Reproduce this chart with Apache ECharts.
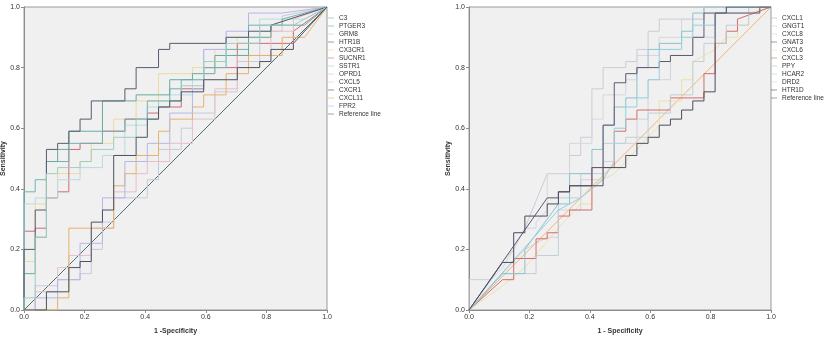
<!DOCTYPE html>
<html>
<head>
<meta charset="utf-8">
<script src="https://cdn.jsdelivr.net/npm/echarts@6/dist/echarts.min.js"></script>
<style>
  html, body { margin: 0; padding: 0; background: #fff; }
  #chart { width: 825px; height: 337px; }
</style>
</head>
<body>
<div id="chart"></div>
<script>
// ROC curves, [1 - specificity, sensitivity] corner points
const axisTicks = [0, 0.2, 0.4, 0.6, 0.8, 1.0];

// left panel
const leftNames = ['C3', 'PTGER3', 'GRM8', 'HTR1B', 'CX3CR1', 'SUCNR1', 'SSTR1', 'OPRD1', 'CXCL5', 'CXCR1', 'CXCL11', 'FPR2', 'Reference line'];
const leftColors = ['#73b2b6', '#6aab9c', '#c9c9dc', '#5a5a70', '#ebdc9c', '#cc6a7c', '#9ccfbf', '#ebbdcd', '#b6dbe4', '#4e5262', '#e6b268', '#b6b6e6', '#4d6e6a'];

const c3 = [[0,0],[0,0.39],[0.037,0.39],[0.037,0.43],[0.074,0.43],[0.074,0.49],[0.148,0.49],[0.148,0.55],[0.259,0.55],[0.259,0.59],[0.333,0.59],[0.333,0.63],[0.407,0.63],[0.407,0.69],[0.481,0.69],[0.481,0.73],[0.519,0.73],[0.519,0.76],[0.593,0.76],[0.593,0.8],[0.667,0.8],[0.667,0.86],[0.741,0.86],[0.741,0.94],[0.852,0.94],[0.852,0.96],[1,1]];
const ptger3 = [[0,0],[0,0.12],[0.037,0.12],[0.037,0.24],[0.074,0.24],[0.074,0.49],[0.111,0.49],[0.111,0.53],[0.148,0.53],[0.148,0.59],[0.259,0.59],[0.259,0.69],[0.37,0.69],[0.37,0.71],[0.481,0.71],[0.481,0.76],[0.556,0.76],[0.556,0.78],[0.63,0.78],[0.63,0.84],[0.741,0.84],[0.741,0.9],[0.815,0.9],[0.815,0.94],[0.926,0.94],[1,1]];
const grm8 = [[0,0],[0.037,0],[0.037,0.08],[0.111,0.08],[0.111,0.1],[0.185,0.1],[0.185,0.12],[0.222,0.12],[0.222,0.2],[0.259,0.2],[0.259,0.29],[0.296,0.29],[0.296,0.37],[0.407,0.37],[0.407,0.43],[0.444,0.43],[0.444,0.53],[0.519,0.53],[0.519,0.6],[0.556,0.6],[0.556,0.65],[0.63,0.65],[0.63,0.72],[0.704,0.72],[0.704,0.82],[0.778,0.82],[0.778,0.92],[0.852,0.92],[0.852,0.97],[1,1]];
const htr1b = [[0,0],[0,0.2],[0.037,0.2],[0.037,0.33],[0.074,0.33],[0.074,0.53],[0.111,0.53],[0.111,0.55],[0.148,0.55],[0.148,0.59],[0.185,0.59],[0.185,0.63],[0.222,0.63],[0.222,0.69],[0.333,0.69],[0.333,0.73],[0.37,0.73],[0.37,0.8],[0.444,0.8],[0.444,0.86],[0.481,0.86],[0.481,0.88],[0.667,0.88],[0.667,0.9],[0.741,0.9],[0.741,0.92],[0.815,0.92],[0.815,0.94],[1,1]];
const cx3cr1 = [[0,0],[0,0.16],[0.037,0.16],[0.037,0.35],[0.074,0.35],[0.074,0.37],[0.111,0.37],[0.111,0.45],[0.185,0.45],[0.185,0.49],[0.222,0.49],[0.222,0.55],[0.296,0.55],[0.296,0.63],[0.37,0.63],[0.37,0.69],[0.444,0.69],[0.444,0.78],[0.556,0.78],[0.556,0.8],[0.63,0.8],[0.63,0.86],[0.704,0.86],[0.704,0.9],[0.815,0.9],[0.815,0.94],[1,1]];
const sucnr1 = [[0,0],[0,0.26],[0.037,0.26],[0.037,0.27],[0.074,0.27],[0.074,0.37],[0.111,0.37],[0.111,0.39],[0.148,0.39],[0.148,0.53],[0.185,0.53],[0.185,0.55],[0.259,0.55],[0.259,0.59],[0.333,0.59],[0.333,0.63],[0.407,0.63],[0.407,0.65],[0.444,0.65],[0.444,0.67],[0.519,0.67],[0.519,0.73],[0.593,0.73],[0.593,0.8],[0.704,0.8],[0.704,0.88],[0.889,0.88],[0.889,0.92],[1,1]];
const sstr1 = [[0,0],[0,0.04],[0.037,0.04],[0.037,0.24],[0.074,0.24],[0.074,0.45],[0.111,0.45],[0.111,0.47],[0.185,0.47],[0.185,0.49],[0.222,0.49],[0.222,0.53],[0.296,0.53],[0.296,0.57],[0.37,0.57],[0.37,0.63],[0.444,0.63],[0.444,0.69],[0.519,0.69],[0.519,0.74],[0.593,0.74],[0.593,0.82],[0.667,0.82],[0.667,0.88],[0.778,0.88],[0.778,0.94],[0.889,0.94],[1,1]];
const oprd1 = [[0,0],[0.037,0],[0.037,0.06],[0.111,0.06],[0.111,0.14],[0.148,0.14],[0.148,0.18],[0.222,0.18],[0.222,0.27],[0.296,0.27],[0.296,0.39],[0.37,0.39],[0.37,0.45],[0.407,0.45],[0.407,0.49],[0.481,0.49],[0.481,0.55],[0.556,0.55],[0.556,0.63],[0.63,0.63],[0.63,0.73],[0.704,0.73],[0.704,0.84],[0.815,0.84],[0.815,0.92],[0.889,0.92],[0.889,0.96],[1,1]];
const cxcl5 = [[0,0],[0,0.35],[0.037,0.35],[0.037,0.37],[0.111,0.37],[0.111,0.43],[0.185,0.43],[0.185,0.47],[0.259,0.47],[0.259,0.51],[0.333,0.51],[0.333,0.61],[0.407,0.61],[0.407,0.67],[0.481,0.67],[0.481,0.71],[0.556,0.71],[0.556,0.76],[0.593,0.76],[0.593,0.86],[0.667,0.86],[0.667,0.9],[0.778,0.9],[0.778,0.96],[0.926,0.96],[1,1]];
const cxcr1 = [[0,0],[0.074,0],[0.074,0.06],[0.148,0.06],[0.148,0.14],[0.185,0.14],[0.185,0.16],[0.222,0.16],[0.222,0.29],[0.259,0.29],[0.259,0.33],[0.296,0.33],[0.296,0.51],[0.37,0.51],[0.37,0.57],[0.407,0.57],[0.407,0.63],[0.444,0.63],[0.444,0.67],[0.481,0.67],[0.481,0.69],[0.519,0.69],[0.519,0.72],[0.593,0.72],[0.593,0.76],[0.704,0.76],[0.704,0.8],[0.778,0.8],[0.778,0.82],[0.815,0.82],[0.815,0.86],[0.889,0.86],[0.889,0.88],[1,1]];
const cxcl11 = [[0,0],[0.111,0],[0.111,0.04],[0.148,0.04],[0.148,0.27],[0.296,0.27],[0.296,0.41],[0.333,0.41],[0.333,0.45],[0.37,0.45],[0.37,0.51],[0.444,0.51],[0.444,0.59],[0.481,0.59],[0.481,0.63],[0.556,0.63],[0.556,0.67],[0.593,0.67],[0.593,0.71],[0.667,0.71],[0.667,0.78],[0.741,0.78],[0.741,0.84],[0.852,0.84],[0.852,0.9],[0.926,0.9],[1,1]];
const fpr2 = [[0,0],[0.037,0],[0.037,0.04],[0.111,0.04],[0.111,0.1],[0.185,0.1],[0.185,0.22],[0.259,0.22],[0.259,0.37],[0.333,0.37],[0.333,0.49],[0.407,0.49],[0.407,0.55],[0.481,0.55],[0.481,0.65],[0.556,0.65],[0.556,0.73],[0.593,0.73],[0.593,0.86],[0.667,0.86],[0.667,0.92],[0.741,0.92],[0.741,0.98],[0.852,0.98],[1,1]];
const refLine = [[0,0],[1,1]];
const leftCurves = [c3, ptger3, grm8, htr1b, cx3cr1, sucnr1, sstr1, oprd1, cxcl5, cxcr1, cxcl11, fpr2, refLine];

// right panel
const rightNames = ['CXCL1', 'GNGT1', 'CXCL8', 'GNAT3', 'CXCL6', 'CXCL3', 'PPY', 'HCAR2', 'DRD2', 'HTR1D', 'Reference line'];
const rightColors = ['#8cc2ce', '#c9cdd3', '#d2d2dc', '#5e5872', '#eee0a6', '#d46c6c', '#92d0e0', '#c2ced8', '#d6d6df', '#4c4c5c', '#f0b474'];

const cxcl1 = [[0,0],[0.111,0.12],[0.185,0.12],[0.185,0.2],[0.296,0.35],[0.333,0.35],[0.333,0.45],[0.407,0.45],[0.407,0.53],[0.444,0.53],[0.444,0.61],[0.481,0.61],[0.481,0.67],[0.519,0.67],[0.519,0.7],[0.556,0.7],[0.556,0.8],[0.593,0.8],[0.593,0.86],[0.63,0.86],[0.63,0.88],[0.704,0.88],[0.704,0.92],[0.741,0.92],[0.741,0.98],[0.778,0.98],[0.778,1],[1,1]];
const gngt1 = [[0,0],[0,0.1],[0.074,0.1],[0.111,0.16],[0.148,0.2],[0.185,0.27],[0.259,0.45],[0.333,0.45],[0.333,0.51],[0.37,0.51],[0.37,0.57],[0.407,0.57],[0.407,0.73],[0.444,0.73],[0.444,0.8],[0.519,0.8],[0.519,0.82],[0.556,0.82],[0.556,0.86],[0.593,0.86],[0.593,0.92],[0.63,0.92],[0.63,0.96],[0.778,0.96],[0.778,1],[1,1]];
const cxcl8 = [[0,0],[0.148,0.16],[0.185,0.2],[0.259,0.24],[0.296,0.24],[0.296,0.33],[0.37,0.33],[0.37,0.43],[0.444,0.43],[0.444,0.49],[0.481,0.49],[0.481,0.55],[0.556,0.55],[0.556,0.63],[0.593,0.63],[0.593,0.76],[0.667,0.76],[0.667,0.84],[0.741,0.84],[0.741,0.9],[0.815,0.9],[0.815,0.98],[0.926,0.98],[0.926,1],[1,1]];
const gnat3 = [[0,0],[0.259,0.37],[0.296,0.37],[0.296,0.39],[0.333,0.39],[0.333,0.41],[0.407,0.41],[0.407,0.47],[0.444,0.47],[0.444,0.61],[0.481,0.61],[0.481,0.75],[0.519,0.75],[0.519,0.78],[0.556,0.78],[0.556,0.8],[0.63,0.8],[0.63,0.82],[0.667,0.82],[0.667,0.84],[0.741,0.84],[0.741,0.9],[0.778,0.9],[0.778,0.98],[0.963,0.98],[0.963,1],[1,1]];
const cxcl6 = [[0,0],[0.111,0.08],[0.185,0.14],[0.296,0.27],[0.37,0.35],[0.407,0.35],[0.407,0.41],[0.481,0.45],[0.519,0.49],[0.593,0.57],[0.63,0.61],[0.63,0.69],[0.704,0.69],[0.704,0.76],[0.741,0.76],[0.741,0.82],[0.815,0.86],[0.852,0.9],[0.889,0.9],[0.889,0.94],[0.926,0.94],[0.926,0.98],[1,1]];
const cxcl3 = [[0,0],[0.111,0.1],[0.148,0.1],[0.148,0.17],[0.222,0.17],[0.222,0.235],[0.259,0.235],[0.259,0.255],[0.296,0.255],[0.296,0.31],[0.333,0.31],[0.333,0.33],[0.407,0.33],[0.407,0.47],[0.481,0.47],[0.481,0.59],[0.519,0.59],[0.519,0.63],[0.556,0.63],[0.556,0.66],[0.667,0.66],[0.667,0.7],[0.778,0.7],[0.778,0.78],[0.815,0.78],[0.815,0.88],[0.852,0.88],[0.852,0.92],[0.889,0.92],[0.889,0.96],[1,1]];
const ppy = [[0,0],[0.296,0.33],[0.37,0.37],[0.444,0.43],[0.481,0.49],[0.481,0.6],[0.519,0.6],[0.519,0.67],[0.556,0.67],[0.556,0.7],[0.593,0.7],[0.593,0.76],[0.63,0.76],[0.63,0.86],[0.704,0.86],[0.704,0.9],[0.741,0.9],[0.741,0.94],[0.815,0.94],[0.815,0.98],[0.852,0.98],[0.852,1],[1,1]];
const hcar2 = [[0,0],[0.111,0.12],[0.222,0.12],[0.222,0.18],[0.296,0.18],[0.296,0.37],[0.37,0.37],[0.37,0.45],[0.444,0.45],[0.444,0.55],[0.519,0.55],[0.519,0.57],[0.593,0.57],[0.593,0.65],[0.667,0.65],[0.667,0.71],[0.741,0.71],[0.741,0.82],[0.778,0.82],[0.778,0.88],[0.852,0.88],[0.852,0.94],[0.926,0.94],[0.926,1],[1,1]];
const drd2 = [[0,0],[0.074,0.1],[0.111,0.14],[0.148,0.2],[0.185,0.27],[0.222,0.27],[0.222,0.29],[0.259,0.33],[0.259,0.45],[0.333,0.45],[0.333,0.55],[0.407,0.55],[0.407,0.63],[0.444,0.63],[0.444,0.71],[0.519,0.71],[0.519,0.76],[0.556,0.76],[0.556,0.84],[0.63,0.84],[0.63,0.9],[0.704,0.9],[0.704,0.96],[0.778,0.96],[0.778,1],[1,1]];
const htr1d = [[0,0],[0.111,0.157],[0.148,0.157],[0.148,0.255],[0.185,0.255],[0.185,0.31],[0.259,0.31],[0.259,0.35],[0.296,0.35],[0.296,0.39],[0.333,0.39],[0.333,0.41],[0.444,0.41],[0.444,0.47],[0.519,0.47],[0.519,0.51],[0.556,0.51],[0.556,0.55],[0.593,0.55],[0.593,0.57],[0.63,0.57],[0.63,0.61],[0.667,0.61],[0.667,0.63],[0.704,0.63],[0.704,0.66],[0.741,0.66],[0.741,0.69],[0.778,0.69],[0.778,0.72],[0.815,0.72],[0.815,0.98],[0.852,0.98],[0.852,1],[1,1]];
const rightCurves = [cxcl1, gngt1, cxcl8, gnat3, cxcl6, cxcl3, ppy, hcar2, drd2, htr1d, refLine];

const font = 'Liberation Sans, Arial, sans-serif';
const textColor = '#333';

function makeAxis(idx, name, nameGap) {
  return {
    type: 'value',
    gridIndex: idx,
    min: 0,
    max: 1,
    interval: 0.2,
    name: name,
    nameLocation: 'middle',
    nameGap: nameGap,
    nameTextStyle: { fontFamily: font, fontSize: 7, fontWeight: 'bold', color: textColor },
    axisLine: { show: true, lineStyle: { color: '#8c8c8c', width: 1 } },
    axisTick: { show: true, length: 3, lineStyle: { color: '#8c8c8c' } },
    axisLabel: {
      fontFamily: font, fontSize: 7, color: textColor, margin: 4,
      formatter: v => v.toFixed(1)
    },
    splitLine: { show: false }
  };
}

function makeSeries(names, curves, colors, idx) {
  return names.map((n, i) => ({
    name: n,
    type: 'line',
    xAxisIndex: idx,
    yAxisIndex: idx,
    data: curves[i],
    symbol: 'none',
    silent: true,
    z: n === 'Reference line' ? 1 : 2 + (colors[i] < '#a' ? 1 : 0),
    lineStyle: { color: colors[i], width: 1 },
    itemStyle: { color: colors[i] }
  }));
}

function makeLegend(names, left) {
  return {
    data: names,
    orient: 'vertical',
    left: left,
    top: 14,
    padding: 0,
    itemWidth: 6,
    itemHeight: 8,
    itemGap: 0,
    icon: 'path://M0,4L10,4L10,5L0,5Z',
    selectedMode: false,
    textStyle: { fontFamily: font, fontSize: 6.5, color: textColor, lineHeight: 8 }
  };
}

const gridBase = {
  top: 7, height: 303, show: true,
  backgroundColor: '#f0f0f0', borderColor: '#9a9a9a', borderWidth: 1,
  containLabel: false, outerBoundsMode: 'none'
};

const chart = echarts.init(document.getElementById('chart'), null, { renderer: 'canvas' });
chart.setOption({
  animation: false,
  backgroundColor: '#ffffff',
  grid: [
    Object.assign({ left: 24, width: 303 }, gridBase),
    Object.assign({ left: 469, width: 302 }, gridBase)
  ],
  xAxis: [makeAxis(0, '1 -Specificity', 18), makeAxis(1, '1 - Specificity', 18)],
  yAxis: [makeAxis(0, 'Sensitivity', 16), makeAxis(1, 'Sensitivity', 16)],
  legend: [makeLegend(leftNames, 328), makeLegend(rightNames, 771)],
  series: makeSeries(leftNames, leftCurves, leftColors, 0).concat(makeSeries(rightNames, rightCurves, rightColors, 1))
});
</script>
</body>
</html>
